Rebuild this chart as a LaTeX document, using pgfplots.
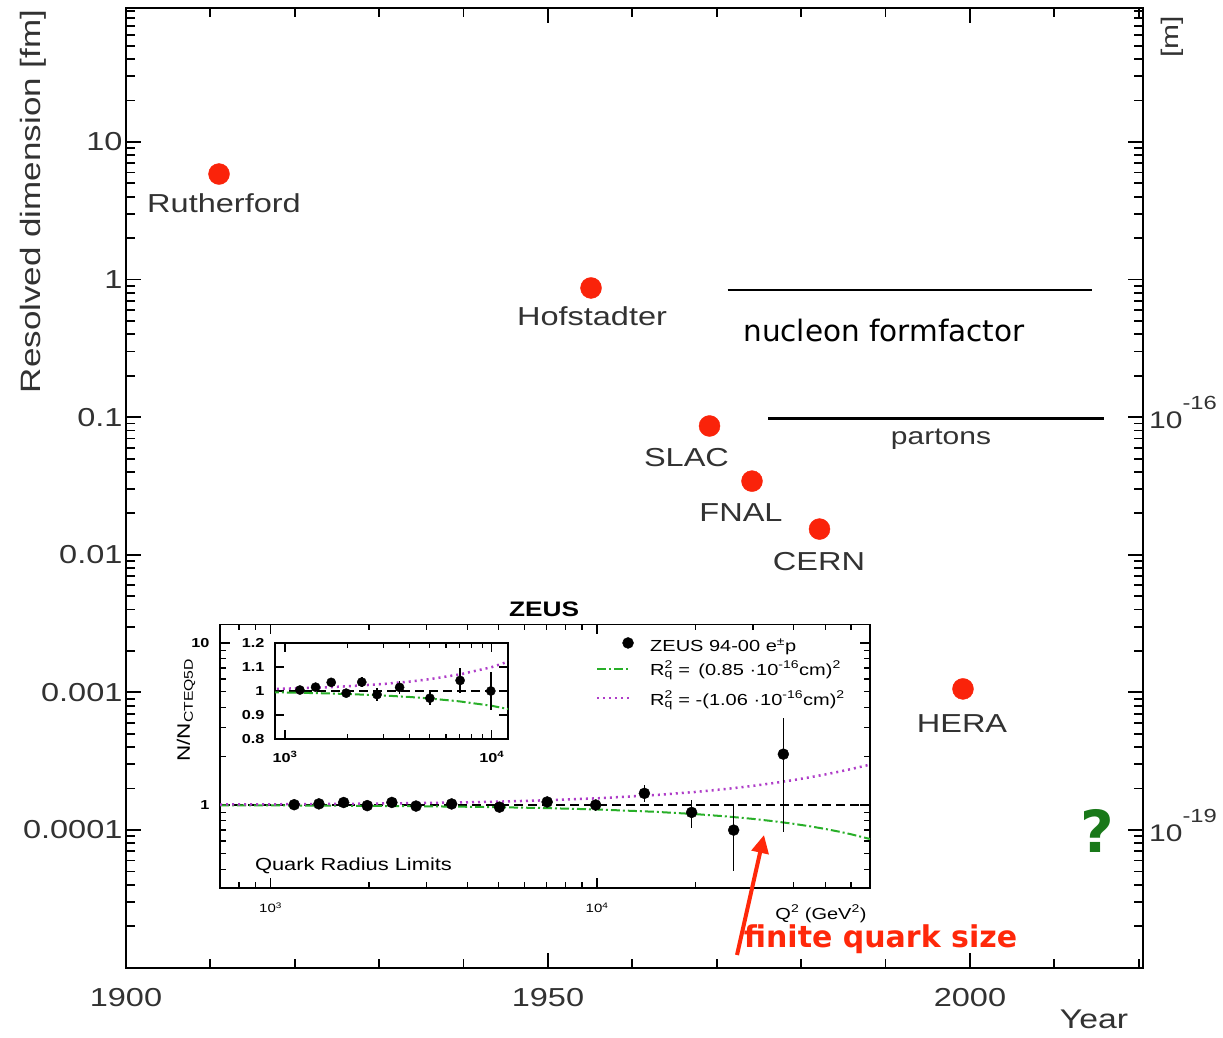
\documentclass[border=0pt]{standalone}
\usepackage{pgfplots}
\pgfplotsset{compat=1.18}
\usepackage{pgfplotstable}
\usepackage{fontspec}
\setmainfont{Liberation Sans}[FakeStretch=1.25]
\newfontfamily\comic{DejaVu Sans}
\usetikzlibrary{arrows.meta}
\definecolor{dotred}{RGB}{250,35,10}
\definecolor{labgrey}{RGB}{50,50,50}
\definecolor{zgreen}{RGB}{40,175,40}
\definecolor{zmag}{RGB}{175,60,200}
\definecolor{qgreen}{RGB}{25,120,25}
\definecolor{arrred}{RGB}{255,40,10}

\pgfplotstableread{
q r e
1181 1.004 0.010
1406 1.016 0.010
1674 1.036 0.010
1977 0.991 0.010
2352 1.037 0.022
2789 0.985 0.028
3585 1.015 0.026
5023 0.970 0.028
7033 1.044 0.052
9900 1.000 0.078
13960 1.180 0.140
19480 0.900 0.180
26200 0.700 0.310
37200 2.060 1.380
}\zeus

\pgfplotstableread{
q g m
700 0.99562 1.00680
1000 0.99375 1.00972
1500 0.99063 1.01460
2000 0.98752 1.01949
3000 0.98131 1.02931
4000 0.97512 1.03918
5000 0.96894 1.04909
7000 0.95666 1.06905
10000 0.93838 1.09935
15000 0.90830 1.15079
20000 0.87872 1.20341
25000 0.84962 1.25720
30000 0.82102 1.31217
35000 0.79290 1.36831
40000 0.76528 1.42564
45000 0.73814 1.48413
50000 0.71149 1.54381
55000 0.68534 1.60466
60000 0.65967 1.66668
68550 0.61692 1.77548
}\curves

\begin{document}
\begin{tikzpicture}
\path[use as bounding box] (0pt,0pt) rectangle (1223pt,1037pt);

% ---------------- main axis ----------------
\begin{axis}[
  at={(126pt,69pt)}, anchor=south west,
  scale only axis, width=1017pt, height=960pt,
  xmin=1900, xmax=2020.5,
  ymode=log, ymin=9.93e-6, ymax=94.1,
  xtick={1900,1950,2000}, xticklabels={1900,1950,2000},
  minor xtick={1910,1920,1930,1940,1960,1970,1980,1990,2010,2020},
  ytick={0.0001,0.001,0.01,0.1,1,10},
  yticklabels={0.0001,0.001,0.01,0.1,1,10},
  minor ytick={2e-5,3e-5,4e-5,5e-5,6e-5,7e-5,8e-5,9e-5,
    2e-4,3e-4,4e-4,5e-4,6e-4,7e-4,8e-4,9e-4,
    0.002,0.003,0.004,0.005,0.006,0.007,0.008,0.009,
    0.02,0.03,0.04,0.05,0.06,0.07,0.08,0.09,
    0.2,0.3,0.4,0.5,0.6,0.7,0.8,0.9,
    2,3,4,5,6,7,8,9,20,30,40,50,60,70,80,90},
  tick align=inside,
  major tick length=15pt, minor tick length=9pt,
  every tick/.style={black, line width=1.8pt},
  axis line style={line width=2.5pt},
  tick label style={font=\fontsize{26}{30}\selectfont, text=labgrey},
  xticklabel style={yshift=-17pt},
  clip=false,
]
\addplot[only marks, mark=*, mark size=10.5pt, color=dotred]
  coordinates {(1911.02,5.85) (1955.10,0.869) (1969.14,0.0863) (1974.17,0.0343) (1982.17,0.01537) (1999.17,0.00106)};
\addplot[black, line width=2pt] coordinates {(1971.29,0.840) (2014.42,0.840)};
\addplot[black, line width=3pt] coordinates {(1976.07,0.098) (2015.88,0.098)};
\end{axis}

% ---------------- outer inset ----------------
\begin{axis}[
  at={(220pt,149pt)}, anchor=south west,
  scale only axis, width=650pt, height=263.5pt,
  xmode=log, ymode=log,
  xmin=700, xmax=68550, ymin=0.3074, ymax=13.0,
  xtick={1000,10000}, xticklabels={10\textsuperscript{3},10\textsuperscript{4}},
  minor xtick={800,900,2000,3000,4000,5000,6000,7000,8000,9000,20000,30000,40000,50000,60000},
  ytick={1,10}, yticklabels={1,10},
  minor ytick={0.4,0.5,0.6,0.7,0.8,0.9,2,3,4,5,6,7,8,9},
  tick align=inside, major tick length=10pt, minor tick length=6pt,
  every tick/.style={black, line width=1.3pt},
  axis line style={line width=1.8pt},
  axis background/.style={fill=white},
  xticklabel style={font=\fontsize{12}{14}\selectfont, yshift=-11pt},
  yticklabel style={font=\bfseries\fontsize{13}{15}\selectfont, xshift=-7pt},
]
\addplot[black, line width=1.5pt, dash pattern=on 9pt off 5pt] coordinates {(700,1) (68550,1)};
\addplot[zgreen, line width=2pt, dash pattern=on 9pt off 3pt on 2pt off 3pt] table[x=q,y=g]{\curves};
\addplot[zmag, line width=2.5pt, dash pattern=on 2pt off 4pt] table[x=q,y=m]{\curves};
\addplot[only marks, mark=*, mark size=5.5pt, black,
  error bars/.cd, y dir=both, y explicit, error bar style={line width=1.5pt, solid}, error mark=none]
  table[x=q,y=r,y error=e]{\zeus};
% legend samples
\addplot[only marks, mark=*, mark size=5.5pt, black] coordinates {(12440,10)};
\addplot[zgreen, line width=2pt, dash pattern=on 9pt off 3pt on 2pt off 3pt] coordinates {(10000,6.91) (12620,6.91)};
\addplot[zmag, line width=2.5pt, dash pattern=on 2pt off 4pt] coordinates {(10000,4.58) (12620,4.58)};
\end{axis}

% ---------------- inner inset ----------------
\begin{axis}[
  at={(275pt,298pt)}, anchor=south west,
  scale only axis, width=233pt, height=96pt,
  xmode=log,
  xmin=895, xmax=11990, ymin=0.8, ymax=1.2,
  xtick={1000,10000}, xticklabels={10\textsuperscript{3},10\textsuperscript{4}},
  minor xtick={2000,3000,4000,5000,6000,7000,8000,9000},
  ytick={0.8,0.9,1,1.1,1.2}, yticklabels={0.8,0.9,1,1.1,1.2},
  tick align=inside, major tick length=9pt, minor tick length=5pt,
  every tick/.style={black, line width=1.3pt},
  axis line style={line width=1.8pt},
  axis background/.style={fill=white},
  xticklabel style={font=\bfseries\fontsize{13}{15}\selectfont, yshift=-9pt},
  yticklabel style={font=\bfseries\fontsize{13}{15}\selectfont, xshift=-7pt},
]
\addplot[black, line width=1.5pt, dash pattern=on 9pt off 5pt] coordinates {(895,1) (11990,1)};
\addplot[zgreen, line width=2pt, dash pattern=on 9pt off 3pt on 2pt off 3pt] table[x=q,y=g]{\curves};
\addplot[zmag, line width=2.5pt, dash pattern=on 2pt off 4pt] table[x=q,y=m]{\curves};
\addplot[only marks, mark=*, mark size=4.6pt, black,
  error bars/.cd, y dir=both, y explicit, error bar style={line width=1.5pt, solid}, error mark=none]
  table[x=q,y=r,y error=e]{\zeus};
\end{axis}

% ---------------- texts ----------------
\begin{scope}[every node/.style={text=labgrey, font=\fontsize{26}{30}\selectfont, anchor=base, inner sep=0pt}]
\node at (224pt,824pt) {Rutherford};
\node at (592pt,711pt) {Hofstadter};
\node at (686.5pt,570pt) {SLAC};
\node at (741pt,515pt) {FNAL};
\node at (819pt,466pt) {CERN};
\node at (962pt,305pt) {HERA};
\node[font=\fontsize{24}{28}\selectfont] at (941pt,592pt) {partons};
\node[font=\fontsize{27}{30}\selectfont] at (1094pt,9pt) {Year};
\end{scope}
\node[rotate=90, text=labgrey, font=\fontsize{28}{30}\selectfont, inner sep=0pt] at (33pt,835.5pt) {Resolved dimension [fm]};
\node[rotate=90, text=labgrey, font=\fontsize{24}{26}\selectfont, inner sep=0pt] at (1172pt,1000pt) {[m]};
\node[anchor=base west, inner sep=0pt, text=labgrey, font=\fontsize{24}{26}\selectfont] at (1149pt,608.5pt) {10\raisebox{19pt}{\fontsize{19}{20}\selectfont -16}};
\node[anchor=base west, inner sep=0pt, text=labgrey, font=\fontsize{24}{26}\selectfont] at (1149pt,195.5pt) {10\raisebox{19pt}{\fontsize{19}{20}\selectfont -19}};

\node[anchor=base, inner sep=0pt, font=\bfseries\fontsize{21}{24}\selectfont] at (544pt,420pt) {ZEUS};
\begin{scope}[every node/.style={anchor=base west, inner sep=0pt, font=\fontsize{16}{18}\selectfont}]
\node at (650pt,385pt) {ZEUS 94-00 e\textsuperscript{±}p};
\node at (650pt,362pt) {R\rlap{\textsuperscript{2}}\textsubscript{q} =\, (0.85 ·10\textsuperscript{-16}cm)\textsuperscript{2}};
\node at (650pt,332pt) {R\rlap{\textsuperscript{2}}\textsubscript{q} = -(1.06 ·10\textsuperscript{-16}cm)\textsuperscript{2}};
\end{scope}
\node[anchor=base, inner sep=0pt, font=\fontsize{17.5}{20}\selectfont] at (353.5pt,167pt) {Quark Radius Limits};
\node[rotate=90, inner sep=0pt, font=\fontsize{18}{20}\selectfont] at (186pt,327pt) {N/N\textsubscript{CTEQ5D}};
\node[anchor=base, inner sep=0pt, font=\fontsize{16}{18}\selectfont] at (821pt,118pt) {Q\textsuperscript{2} (GeV\textsuperscript{2})};

\node[anchor=base, inner sep=0pt, font=\comic\fontsize{29.5}{32}\selectfont] at (884pt,695pt) {nucleon formfactor};
\draw[arrred, line width=4pt, -{Triangle[length=18pt,width=17pt]}] (737pt,82pt) -- (764pt,202pt);
\node[anchor=base, inner sep=0pt, text=arrred, font=\comic\bfseries\fontsize{30}{34}\selectfont] at (880.5pt,90pt) {finite quark size};
\node[inner sep=0pt, text=qgreen, font=\comic\bfseries\fontsize{58}{60}\selectfont] at (1097pt,206pt) {?};
\end{tikzpicture}
\end{document}
